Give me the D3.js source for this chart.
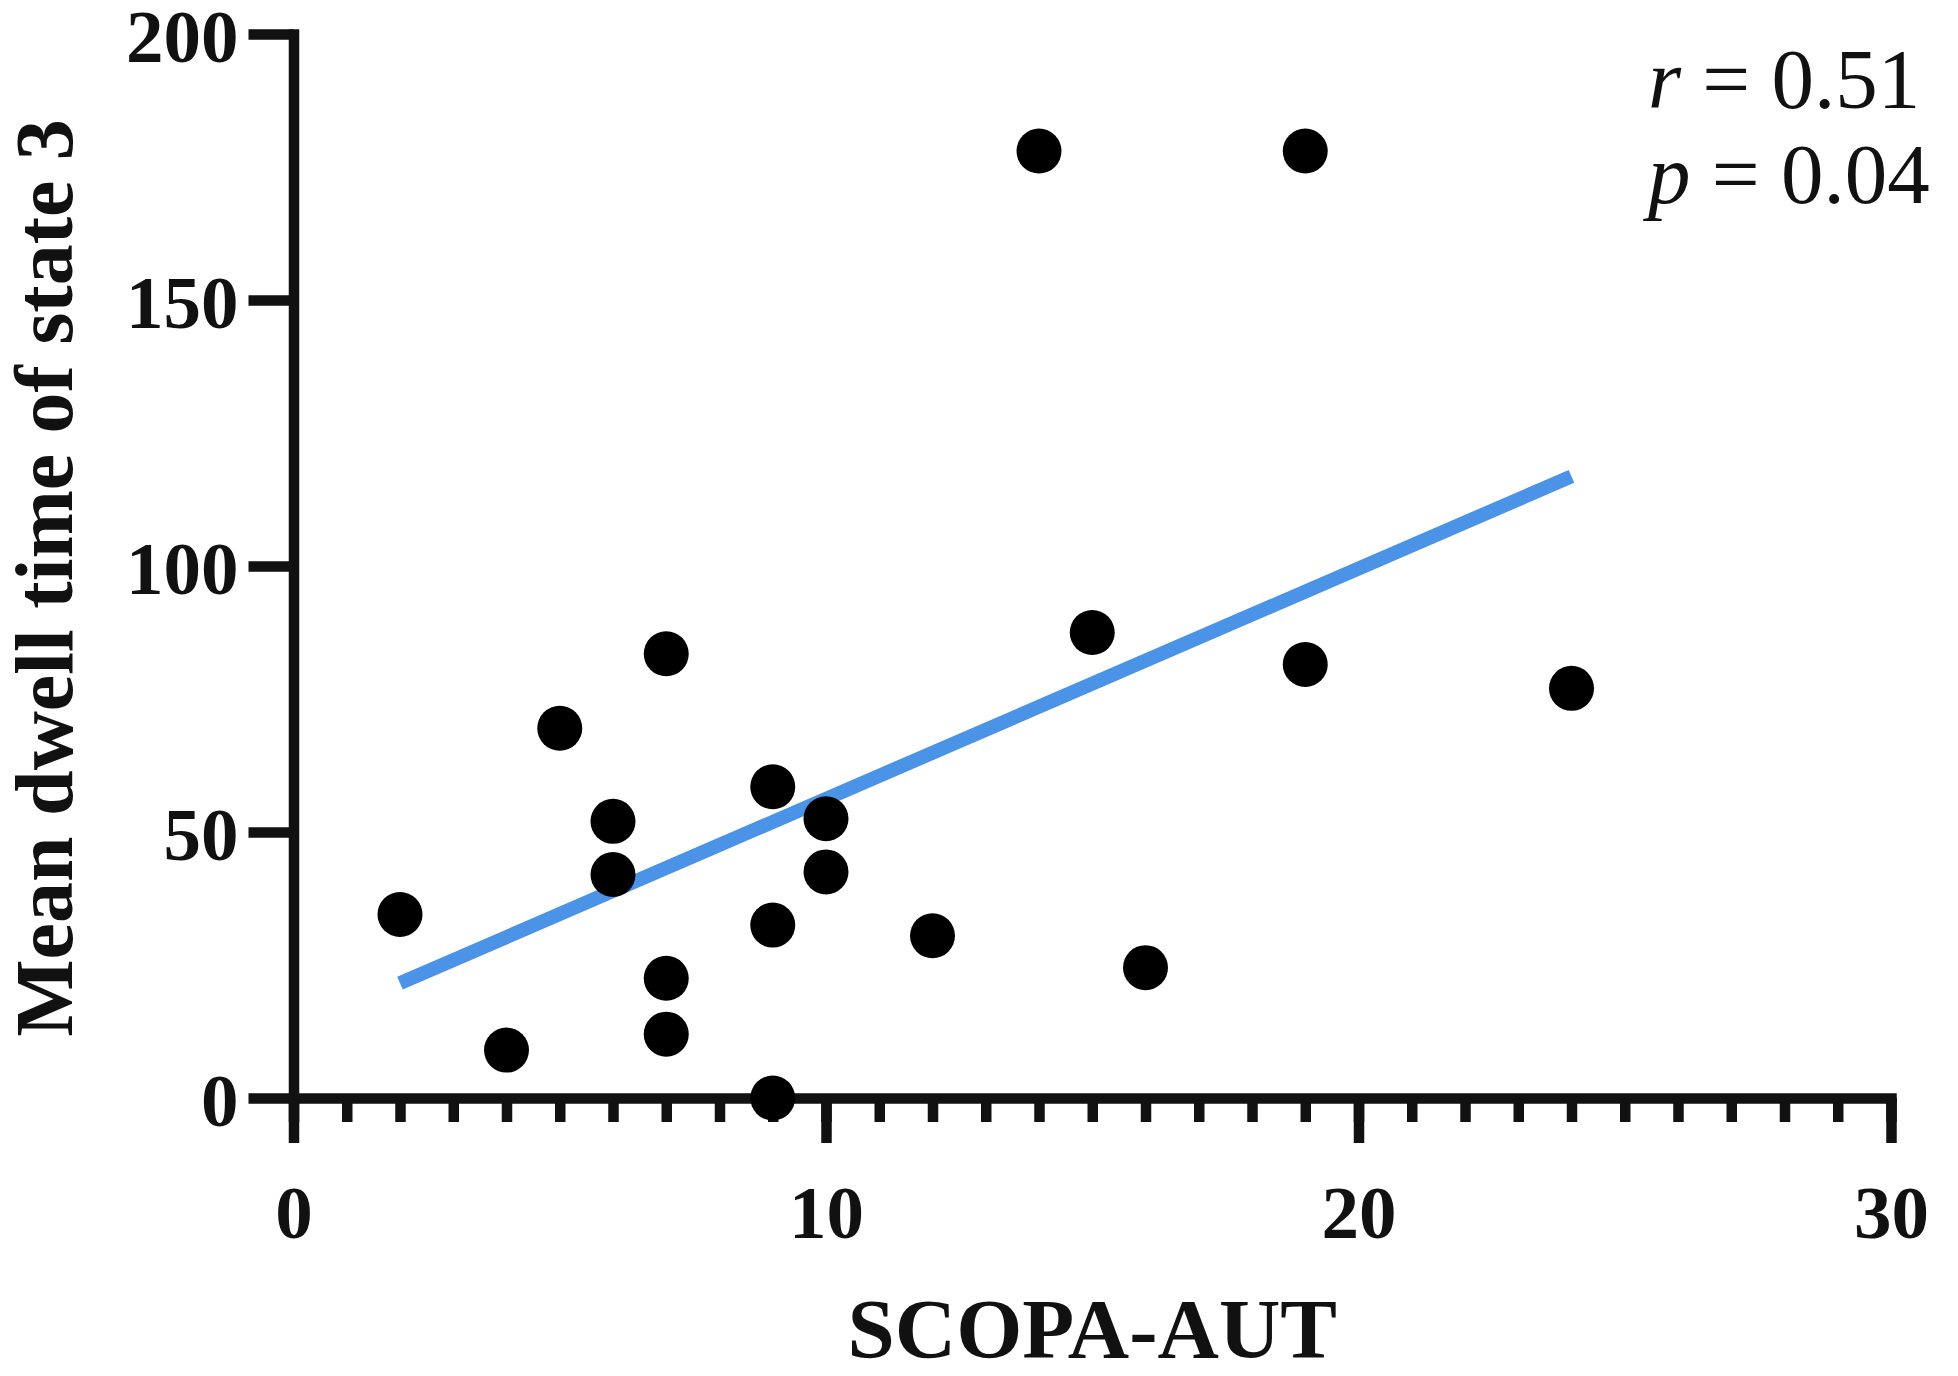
<!DOCTYPE html>
<html>
<head>
<meta charset="utf-8">
<script src="https://cdn.jsdelivr.net/npm/d3@7"></script>
<style>
  body { margin: 0; background: white; }
  svg { display: block; }
  svg text { font-family: "Liberation Serif", "Times New Roman", "DejaVu Serif", serif; }
</style>
</head>
<body>
<div id="chart-container"></div>
<script>
// Data
const scopaAut = [2, 4, 5, 6, 6, 7, 7, 7, 9, 9, 9, 10, 10, 12, 14, 15, 16, 19, 19, 24]
const dwellTime = [34.5, 9, 69.5, 52, 42, 83.5, 22.5, 12, 58.5, 32.5, 0, 52.5, 42.5, 30.5, 178, 87.5, 24.5, 178, 81.5, 77]
const xTicks = [0, 10, 20, 30]
const xMinorTicks = d3.range(0, 31)
const yTicks = [0, 50, 100, 150, 200]
const statsLines = [['r', ' = 0.51'], ['p', ' = 0.04']]

const width = 1958
const height = 1376
const margin = { left: 293.5, right: 67, top: 34, bottom: 278 }
const axisWidth = 10.5

const points = scopaAut.map((x, i) => ({ x: x, y: dwellTime[i] }))

// Least squares fit
const meanX = d3.mean(scopaAut)
const meanY = d3.mean(dwellTime)
const sxy = d3.sum(points, d => (d.x - meanX) * (d.y - meanY))
const sxx = d3.sum(points, d => (d.x - meanX) ** 2)
const slope = sxy / sxx
const intercept = meanY - slope * meanX
const fitX = d3.extent(scopaAut)
const fitLine = fitX.map(x => ({ x: x, y: intercept + slope * x }))

const xScale = d3.scaleLinear()
    .domain([0, 30])
    .range([margin.left, width - margin.right])

const yScale = d3.scaleLinear()
    .domain([0, 200])
    .range([height - margin.bottom, margin.top])

const svg = d3.select('#chart-container')
    .append('svg')
    .attr('width', width)
    .attr('height', height)

// Fit line
svg.append('path')
    .datum(fitLine)
    .attr('fill', 'none')
    .attr('stroke', '#4a93e6')
    .attr('stroke-width', 14)
    .attr('d', d3.line().x(d => xScale(d.x)).y(d => yScale(d.y)))

// Minor x ticks
const xMinor = svg.append('g')
    .attr('transform', 'translate(0,' + yScale(0) + ')')
    .call(d3.axisBottom(xScale).tickValues(xMinorTicks).tickSize(24).tickSizeOuter(0).tickFormat(''))
xMinor.select('.domain').remove()

// Major x axis
const xAxis = svg.append('g')
    .attr('id', 'x-axis')
    .attr('transform', 'translate(0,' + yScale(0) + ')')
    .call(d3.axisBottom(xScale).tickValues(xTicks).tickSize(45).tickSizeOuter(0).tickPadding(42))

// Y axis
const yAxis = svg.append('g')
    .attr('id', 'y-axis')
    .attr('transform', 'translate(' + xScale(0) + ',0)')
    .call(d3.axisLeft(yScale).tickValues(yTicks).tickSize(45).tickSizeOuter(0).tickPadding(10))

svg.selectAll('g').attr('font-family', null)

svg.selectAll('.tick line, .domain')
    .attr('stroke', '#111')
    .attr('stroke-width', axisWidth)
svg.selectAll('.domain').attr('stroke-linecap', 'square')

svg.selectAll('#x-axis text, #y-axis text')
    .attr('font-weight', 'bold')
    .attr('font-size', 75)
    .attr('fill', '#111')
svg.selectAll('#x-axis text').attr('dy', '0.71em')
svg.selectAll('#y-axis text').attr('dy', '0.36em')

// Points
svg.selectAll('circle')
    .data(points)
    .enter()
    .append('circle')
    .attr('cx', d => xScale(d.x))
    .attr('cy', d => yScale(d.y))
    .attr('r', 22.5)
    .attr('fill', '#000')

// Axis titles
svg.append('text')
    .attr('x', (xScale(0) + xScale(30)) / 2)
    .attr('y', 1358)
    .attr('text-anchor', 'middle')
    .attr('font-weight', 'bold')
    .attr('font-size', 85)
    .attr('fill', '#111')
    .text('SCOPA-AUT')

svg.append('text')
    .attr('transform', 'translate(72,' + 578 + ') rotate(-90)')
    .attr('text-anchor', 'middle')
    .attr('font-weight', 'bold')
    .attr('font-size', 82)
    .attr('fill', '#111')
    .text('Mean dwell time of state 3')

// Correlation stats
const stats = svg.append('text')
    .attr('font-size', 85)
    .attr('fill', '#111')
statsLines.forEach((line, i) => {
    stats.append('tspan')
        .attr('x', 1648)
        .attr('y', 108 + i * 95)
        .attr('font-style', 'italic')
        .text(line[0])
    stats.append('tspan')
        .text(line[1])
})
</script>
</body>
</html>
